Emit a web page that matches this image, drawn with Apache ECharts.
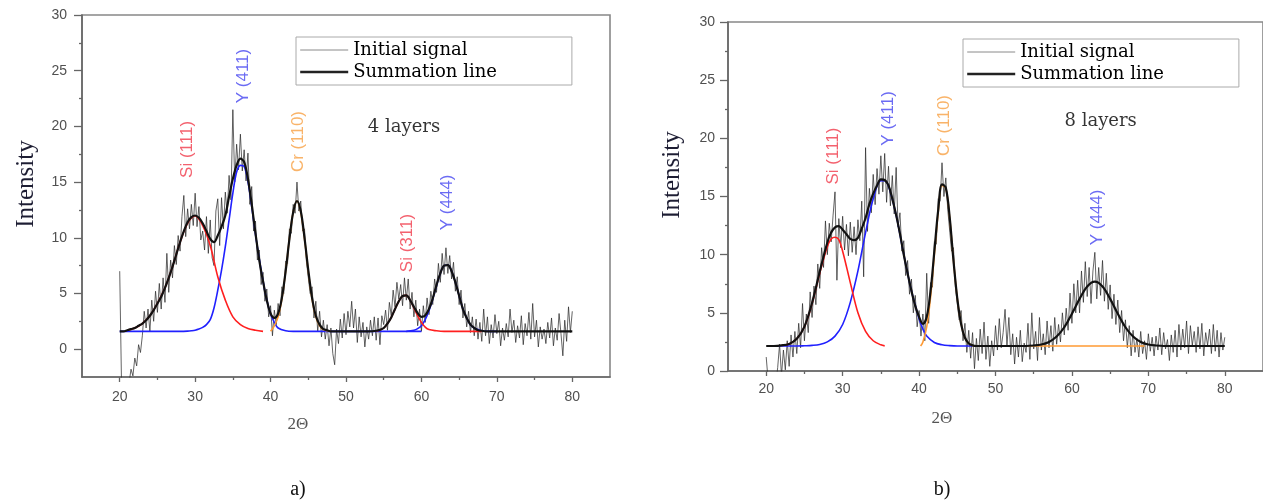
<!DOCTYPE html>
<html><head><meta charset="utf-8">
<script src="https://cdn.jsdelivr.net/npm/echarts@6/dist/echarts.min.js"></script>
<style>html,body{margin:0;padding:0;background:#fff}#c{width:1263px;height:502px}</style>
</head><body><div id="c"></div>
<script>
// ---------- tick labels ----------
const xMajorTicks = [20, 30, 40, 50, 60, 70, 80];
const xMinorTicks = [25, 35, 45, 55, 65, 75];
const yMajorTicks = [0, 5, 10, 15, 20, 25, 30];
const yMinorTicks = [2.5, 7.5, 12.5, 17.5, 22.5, 27.5];

// ---------- raw signal (2Θ from 20 to 80, step 0.25) ----------
const signalStartX = 20, signalStepX = 0.25;
const signalA = [
 7.0,-3.5,-3.0,-3.4,-2.6,-3.0,-1.8,-2.4,-0.8,-1.5,0.4,-0.3,
 1.2,3.4,1.9,3.6,1.6,4.4,2.5,5.2,3.3,5.9,3.6,6.4,
 4.2,8.6,5.1,8.0,6.4,9.3,7.6,10.2,8.8,11.9,13.8,10.1,
 12.6,10.8,13.0,11.1,14.0,11.0,12.8,9.8,10.6,8.9,11.9,8.6,
 11.6,8.2,7.5,12.4,13.5,9.3,13.6,10.8,14.1,12.2,15.6,13.4,
 21.5,15.0,18.4,16.1,19.3,16.0,17.9,15.1,17.6,13.0,14.6,10.6,
 11.5,8.0,8.9,5.8,6.9,4.3,5.4,2.9,3.9,1.2,3.5,2.2,
 4.1,3.0,5.6,5.0,7.9,7.7,10.8,10.4,13.0,12.2,15.0,12.4,
 13.3,10.6,10.8,7.9,7.8,5.0,5.6,2.8,4.3,1.6,3.4,1.1,
 2.6,0.9,2.2,0.3,1.9,-0.4,-1.4,1.8,0.5,2.7,1.0,3.2,
 1.3,3.4,2.0,4.3,1.9,3.6,0.6,2.9,1.1,2.4,0.2,2.0,
 0.9,2.6,1.2,2.9,0.8,2.8,0.4,3.0,2.2,3.5,1.7,4.2,
 3.0,5.3,3.8,6.0,4.5,5.8,3.9,6.4,4.4,6.3,3.6,5.1,
 2.9,4.4,2.1,3.6,1.6,3.9,2.4,4.6,3.1,5.2,4.0,6.3,
 5.1,7.7,6.0,8.6,6.7,9.1,6.8,8.4,6.3,7.8,5.2,6.5,
 4.0,5.3,2.8,4.1,2.0,3.4,1.5,2.9,1.2,2.7,0.9,2.4,
 0.7,3.6,1.2,2.9,0.5,2.2,1.0,3.1,1.4,2.5,0.3,1.9,
 0.8,2.3,1.1,3.6,1.5,2.6,0.6,2.1,1.0,3.0,0.4,2.3,
 1.2,3.3,0.9,4.1,1.1,2.6,0.2,2.0,0.9,1.8,0.5,2.4,
 1.0,2.8,0.3,1.9,0.8,3.2,1.4,-0.6,2.6,0.7,3.8,1.5,3.4
];
const signalB = [
 1.2,-0.8,-0.5,-1.0,-0.6,-1.2,0.3,2.3,-0.4,1.8,0.1,2.6,
 0.4,3.1,1.2,3.4,1.5,4.1,2.0,5.8,2.6,4.9,3.3,6.8,
 4.6,7.3,5.7,9.2,7.1,10.6,8.9,12.9,10.0,12.7,11.1,13.4,
 15.4,7.8,13.1,10.6,13.3,10.4,12.6,9.9,12.8,10.2,12.4,10.0,
 13.0,11.2,14.6,8.1,19.2,12.0,15.7,13.6,16.9,14.3,17.4,15.2,
 18.5,15.4,18.7,14.5,17.6,14.2,16.8,13.5,17.5,12.4,13.6,10.3,
 11.2,8.2,9.5,6.6,7.9,5.0,6.5,3.8,5.2,3.0,4.9,2.6,
 8.4,4.1,7.6,7.2,11.1,10.9,14.8,14.6,17.9,15.0,16.6,13.9,
 14.0,10.3,10.6,7.2,7.3,4.4,5.2,2.6,4.1,1.6,3.5,1.1,
 3.3,0.2,2.8,0.9,3.6,1.5,4.2,1.0,3.0,0.4,2.6,1.3,
 3.9,1.8,4.5,2.0,3.3,5.3,2.2,4.6,1.4,3.2,0.6,2.9,
 1.2,3.5,0.8,2.4,1.6,4.1,1.0,5.0,1.9,3.4,0.9,4.6,
 1.8,3.2,1.4,4.3,2.0,3.9,1.7,4.6,2.3,4.0,2.5,5.0,
 3.1,5.4,3.5,6.7,4.1,7.5,5.0,7.8,5.0,8.6,5.9,9.4,
 6.4,8.9,5.8,8.6,10.2,6.2,8.9,6.5,9.5,6.0,8.4,5.3,
 7.4,4.5,6.6,4.0,6.1,3.3,5.2,2.6,4.4,2.0,3.9,1.3,
 3.5,1.6,2.8,1.2,3.4,1.5,2.6,1.0,3.2,1.7,2.9,1.3,
 3.0,1.8,3.7,1.4,3.3,1.9,2.7,0.9,3.1,1.6,3.5,1.2,
 4.0,1.8,3.6,2.0,4.3,1.5,3.9,2.2,3.4,1.6,3.8,1.9,
 4.1,1.3,3.3,2.2,3.6,1.5,4.0,1.7,3.5,1.2,3.3,1.8,2.9
];

// ---------- panel a) fitted curves [2Θ, intensity] ----------
const sumA = [[20,1.6],[20.5,1.6],[21,1.7],[21.5,1.8],[22,1.9],[22.5,2.1],[23,2.3],[23.5,2.6],[24,3.0],[24.5,3.5],[25,4.1],[25.5,4.7],[26,5.5],[26.5,6.4],[27,7.4],[27.5,8.5],[28,9.6],[28.5,10.6],[29,11.4],[29.5,11.85],[30,12.0],[30.5,11.8],[31,11.3],[31.5,10.6],[32,9.9],[32.5,9.6],[33,10.2],[33.5,11.0],[34,12.0],[34.5,13.7],[35,15.3],[35.5,16.5],[36,17.1],[36.5,16.8],[37,15.3],[37.5,13.0],[38,10.4],[38.5,8.0],[39,6.1],[39.5,4.4],[40,3.2],[40.5,2.8],[41,3.2],[41.5,4.6],[42,7.0],[42.5,9.9],[43,12.3],[43.5,13.3],[44,12.4],[44.5,10.0],[45,7.1],[45.5,4.6],[46,3.0],[46.5,2.2],[47,1.8],[47.5,1.7],[48,1.6],[49,1.6],[50,1.6],[51,1.6],[52,1.6],[53,1.6],[54,1.65],[54.5,1.73],[55,1.9],[55.5,2.3],[56,2.85],[56.5,3.6],[57,4.3],[57.5,4.77],[58,4.83],[58.5,4.4],[59,3.8],[59.5,3.24],[60,2.9],[60.5,3.03],[61,3.6],[61.5,4.55],[62,5.75],[62.5,6.8],[63,7.5],[63.5,7.55],[64,7.0],[64.5,6.0],[65,4.8],[65.5,3.6],[66,2.8],[66.5,2.2],[67,1.9],[67.5,1.7],[68,1.65],[68.5,1.6],[70,1.6],[75,1.6],[80,1.6]];
const si111A = [[21,1.7],[22,1.9],[23,2.3],[24,3.0],[25,4.1],[26,5.5],[27,7.4],[28,9.6],[29,11.3],[30,11.95],[31,11.1],[32,9.3],[33,6.5],[34,4.4],[35,2.9],[36,2.2],[37,1.85],[38,1.7],[39,1.6]];
const y411A = [[20,1.6],[26,1.6],[27,1.6],[28,1.6],[29,1.62],[29.5,1.65],[30,1.7],[30.5,1.8],[31,1.95],[31.5,2.2],[32,2.65],[32.5,3.7],[33,5.3],[33.5,7.1],[34,9.2],[34.5,11.6],[35,14.0],[35.5,15.9],[36,16.5],[36.5,16.4],[37,15.05],[37.5,12.8],[38,10.3],[38.5,8.1],[39,6.1],[39.5,4.4],[40,3.15],[40.5,2.4],[41,1.9],[42,1.65],[43,1.6],[44,1.6],[50,1.6],[58,1.6],[59,1.6],[60,1.6]];
const cr110A = [[40,1.6],[40.5,2.1],[41,2.9],[41.5,4.5],[42,7.0],[42.5,9.9],[43,12.3],[43.5,13.3],[44,12.3],[44.5,9.9],[45,7.0],[45.5,4.5],[46,2.9],[46.5,2.1],[47,1.75],[47.5,1.65],[48,1.6]];
const si311A = [[54,1.6],[54.5,1.73],[55,1.9],[55.5,2.3],[56,2.85],[56.5,3.6],[57,4.3],[57.5,4.77],[58,4.83],[58.5,4.4],[59,3.7],[59.5,3.0],[60,2.4],[60.5,1.98],[61,1.76],[62,1.65],[63,1.6],[65,1.6],[68,1.6]];
const y444A = [[58,1.6],[59,1.7],[59.5,1.84],[60,2.1],[60.5,2.65],[61,3.45],[61.5,4.5],[62,5.7],[62.5,6.8],[63,7.5],[63.5,7.55],[64,7.0],[64.5,6.0],[65,4.8],[65.5,3.6],[66,2.8],[66.5,2.2],[67,1.9],[68,1.65],[69,1.6],[70,1.6]];

// ---------- panel b) fitted curves ----------
const sumB = [[20,2.15],[21,2.15],[22,2.2],[23,2.33],[24,2.77],[25,3.82],[26,5.85],[27,8.53],[28,11.05],[28.5,11.9],[29,12.35],[29.5,12.45],[30,12.15],[30.5,11.75],[31,11.35],[31.5,11.25],[32,11.45],[32.5,12.25],[33,13.15],[33.5,14.35],[34,15.25],[34.5,15.95],[35,16.48],[35.5,16.42],[36,15.95],[36.5,14.8],[37,13.4],[37.5,11.8],[38,10.0],[38.5,8.4],[39,6.9],[39.5,5.6],[40,4.65],[40.5,4.05],[41,4.65],[41.5,6.85],[42,10.3],[42.5,13.8],[43,16.05],[43.5,15.75],[44,13.25],[44.5,9.5],[45,6.25],[45.5,4.03],[46,2.86],[46.5,2.37],[47,2.2],[47.5,2.15],[48,2.15],[50,2.15],[52,2.15],[54,2.15],[55,2.19],[56,2.28],[57,2.5],[58,2.96],[59,3.76],[60,4.92],[61,6.2],[62,7.27],[63,7.68],[64,7.27],[65,6.2],[66,4.92],[67,3.76],[68,2.96],[69,2.5],[70,2.28],[71,2.19],[72,2.15],[74,2.15],[77,2.15],[80,2.15]];
const si111B = [[22,2.2],[23,2.33],[24,2.77],[25,3.8],[26,5.8],[27,8.4],[28,10.7],[28.5,11.35],[29,11.5],[29.5,11.3],[30,10.3],[31,7.6],[32,5.0],[33,3.4],[34,2.6],[35,2.25],[35.5,2.16]];
const y411B = [[21.5,2.15],[23,2.15],[24,2.15],[25,2.17],[26,2.2],[27,2.28],[28,2.5],[29,3.0],[30,4.0],[31,5.9],[32,8.6],[33,11.9],[34,14.8],[35,16.35],[35.5,16.35],[36,15.9],[37,13.4],[38,10.0],[39,6.9],[40,4.5],[40.5,3.6],[41,3.0],[42,2.45],[43,2.25],[44,2.18],[45,2.15],[46,2.15],[47,2.15]];
const cr110B = [[40.2,2.15],[40.5,2.5],[41,3.8],[41.5,6.3],[42,10.0],[42.5,13.6],[43,15.95],[43.5,15.7],[44,13.2],[44.5,9.5],[45,6.25],[45.5,4.03],[46,2.86],[46.5,2.37],[47,2.2],[47.5,2.15],[50,2.15],[56,2.15],[62,2.15],[69.5,2.15]];

// ---------- annotations [text, 2Θ, intensity] ----------
const peakLabelsA = [['Si (111)',28.92,17.93],['Y (411)',36.34,24.52],['Cr (110)',43.64,18.64],['Si (311)',58.09,9.53],['Y (444)',63.39,13.17]];
const peakLabelsB = [['Si (111)',28.76,18.48],['Y (411)',35.97,21.71],['Cr (110)',43.31,21.10],['Y (444)',63.37,13.2]];
const layerNoteA = ['4 layers', 57.69, 19.95];
const layerNoteB = ['8 layers', 63.76, 21.49];

// ---------- option building ----------
const RED = '#ff1f1f', BLUE = '#2020ff', ORANGE = '#ff9a33';
const phaseColor = {Si: '#f03a4a', Y: '#4646f0', Cr: '#f7a043'};
const toPairs = arr => arr.map((v, i) => [signalStartX + i * signalStepX, v]);

function xAxes(g, margin) {
  return [
    {gridIndex: g, type: 'value', min: 15, max: 85, position: 'bottom',
     axisLine: {show: true, onZero: false, lineStyle: {color: '#666', width: 1.6}},
     axisTick: {show: true, customValues: xMajorTicks, length: 5, lineStyle: {color: '#666', width: 1.3}},
     axisLabel: {show: true, customValues: xMajorTicks, margin: margin, color: '#505050', fontSize: 14, fontFamily: 'Liberation Sans'},
     splitLine: {show: false}},
    {gridIndex: g, type: 'value', min: 15, max: 85, position: 'bottom',
     axisLine: {show: false, onZero: false},
     axisTick: {show: true, customValues: xMinorTicks, length: 3, lineStyle: {color: '#666', width: 1.3}},
     axisLabel: {show: false}, splitLine: {show: false}}
  ];
}
function yAxes(g, min, margin) {
  return [
    {gridIndex: g, type: 'value', min: min, max: 30, position: 'left',
     axisLine: {show: true, onZero: false, lineStyle: {color: '#666', width: 1.6}},
     axisTick: {show: true, customValues: yMajorTicks, length: 8, lineStyle: {color: '#666', width: 1.3}},
     axisLabel: {show: true, customValues: yMajorTicks, margin: margin, color: '#505050', fontSize: 14, fontFamily: 'Liberation Sans'},
     splitLine: {show: false}},
    {gridIndex: g, type: 'value', min: min, max: 30, position: 'left',
     axisLine: {show: false, onZero: false},
     axisTick: {show: true, customValues: yMinorTicks, length: 3, lineStyle: {color: '#666', width: 1.3}},
     axisLabel: {show: false}, splitLine: {show: false}}
  ];
}
function line(name, data, xi, color, width) {
  return {name: name, type: 'line', xAxisIndex: xi, yAxisIndex: xi, data: data,
    showSymbol: false, symbol: 'none', smooth: 0.35, animation: false, silent: true,
    lineStyle: {color: color, width: width}, itemStyle: {color: color}};
}
function rawLine(name, data, xi) {
  return {name: name, type: 'line', xAxisIndex: xi, yAxisIndex: xi, data: data,
    showSymbol: false, symbol: 'none', smooth: false, animation: false, silent: true,
    lineStyle: {color: 'rgba(40,40,40,0.8)', width: 0.9}, itemStyle: {color: 'rgba(40,40,40,0.8)'}};
}
function labelSeries(list, xi) {
  return {type: 'scatter', xAxisIndex: xi, yAxisIndex: xi, symbolSize: 1, silent: true, animation: false, z: 6,
    itemStyle: {color: 'rgba(0,0,0,0)'},
    data: list.map(p => ({name: p[0], value: [p[1], p[2]],
      label: {color: phaseColor[p[0].split(' ')[0]]}})),
    label: {show: true, position: 'inside', rotate: 90, formatter: '{b}', fontSize: 17,
      fontFamily: 'Liberation Sans', align: 'center', verticalAlign: 'middle'}};
}
function noteSeries(note, xi) {
  return {type: 'scatter', xAxisIndex: xi, yAxisIndex: xi, symbolSize: 1, silent: true, animation: false, z: 6,
    itemStyle: {color: 'rgba(0,0,0,0)'},
    data: [{name: note[0], value: [note[1], note[2]]}],
    label: {show: true, position: 'inside', formatter: '{b}', fontSize: 18, color: '#000',
      fontFamily: 'DejaVu Serif', align: 'center', verticalAlign: 'middle'}};
}
function legendAt(left, top) {
  return {
    data: [
      {name: 'Initial signal', itemStyle: {opacity: 0}, lineStyle: {color: '#8a8a8a', width: 1}},
      {name: 'Summation line', itemStyle: {opacity: 0}, lineStyle: {color: '#222', width: 2.4}}
    ],
    left: left, top: top, orient: 'vertical',
    itemWidth: 48, itemHeight: 14, itemGap: 4, padding: [4, 75, 4, 3],
    borderColor: '#aaa', borderWidth: 1, selectedMode: false,
    itemStyle: {opacity: 0},
    textStyle: {fontFamily: 'DejaVu Serif', fontSize: 18, color: '#000'}};
}

const option = {
  animation: false,
  backgroundColor: '#fff',
  grid: [
    {left: 82, top: 15, width: 528, height: 362, show: true, borderColor: '#888', borderWidth: 1.6, backgroundColor: 'transparent'},
    {left: 728, top: 22, width: 535, height: 349, show: true, borderColor: '#888', borderWidth: 1.6, backgroundColor: 'transparent'}
  ],
  xAxis: [...xAxes(0, 13), ...xAxes(1, 11)],
  yAxis: [...yAxes(0, -2.5, 15), ...yAxes(1, 0, 13)],
  legend: [legendAt(296, 37), legendAt(963, 39)],
  series: [
    rawLine('Initial signal', toPairs(signalA), 0),
    line('Y (411)', y411A, 0, BLUE, 1.6),
    line('Y (444)', y444A, 0, BLUE, 1.6),
    line('Cr (110)', cr110A, 0, ORANGE, 1.6),
    line('Si (111)', si111A, 0, RED, 1.6),
    line('Si (311)', si311A, 0, RED, 1.6),
    line('Summation line', sumA, 0, '#111', 2.2),
    labelSeries(peakLabelsA, 0),
    noteSeries(layerNoteA, 0),

    rawLine('Initial signal', toPairs(signalB), 2),
    line('Y (411) b', y411B, 2, BLUE, 1.6),
    line('Cr (110) b', cr110B, 2, ORANGE, 1.6),
    line('Si (111) b', si111B, 2, RED, 1.6),
    line('Summation line', sumB, 2, '#111', 2.2),
    labelSeries(peakLabelsB, 2),
    noteSeries(layerNoteB, 2)
  ],
  graphic: [
    {type: 'text', x: 26, y: 184, rotation: Math.PI / 2, silent: true,
     style: {text: 'Intensity', font: '25px "Liberation Serif"', fill: '#1d1d33', align: 'center', verticalAlign: 'middle'}},
    {type: 'text', x: 672, y: 175, rotation: Math.PI / 2, silent: true,
     style: {text: 'Intensity', font: '25px "Liberation Serif"', fill: '#1d1d33', align: 'center', verticalAlign: 'middle'}},
    {type: 'text', x: 298, y: 425, silent: true,
     style: {text: '2Θ', font: '17px "Liberation Serif"', fill: '#555', align: 'center', verticalAlign: 'middle'}},
    {type: 'text', x: 942, y: 419, silent: true,
     style: {text: '2Θ', font: '17px "Liberation Serif"', fill: '#555', align: 'center', verticalAlign: 'middle'}},
    {type: 'text', x: 298, y: 490, silent: true,
     style: {text: 'a)', font: '20px "Liberation Serif"', fill: '#111', align: 'center', verticalAlign: 'middle'}},
    {type: 'text', x: 942, y: 490, silent: true,
     style: {text: 'b)', font: '20px "Liberation Serif"', fill: '#111', align: 'center', verticalAlign: 'middle'}}
  ]
};
const chart = echarts.init(document.getElementById('c'), null, {renderer: 'canvas'});
chart.setOption(option);
</script>
</body></html>
